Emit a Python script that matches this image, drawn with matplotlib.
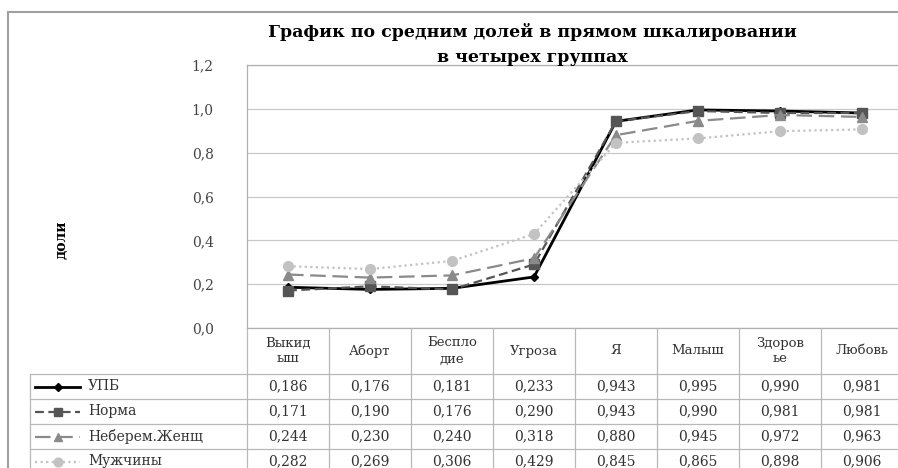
import matplotlib.pyplot as plt
import matplotlib.lines as mlines
import numpy as np

plt.rcParams['font.family'] = ['DejaVu Serif']

categories = ['Выкид\nыш', 'Аборт', 'Беспло\nдие', 'Угроза', 'Я', 'Малыш', 'Здоров\nье', 'Любовь']
series_names = ['УПБ', 'Норма', 'Неберем.Женщ', 'Мужчины']
upb = [0.186, 0.176, 0.181, 0.233, 0.943, 0.995, 0.990, 0.981]
norma = [0.171, 0.190, 0.176, 0.290, 0.943, 0.990, 0.981, 0.981]
neberem = [0.244, 0.230, 0.240, 0.318, 0.880, 0.945, 0.972, 0.963]
muzh = [0.282, 0.269, 0.306, 0.429, 0.845, 0.865, 0.898, 0.906]
yticks = [0.0, 0.2, 0.4, 0.6, 0.8, 1.0, 1.2]

series = [upb, norma, neberem, muzh]
styles = [
    dict(color='black', ls='-', lw=2.0, marker='D', ms=4.5, mfc='black', mec='black'),
    dict(color='#555555', ls=(0, (4, 2)), lw=1.6, marker='s', ms=7, mfc='#555555', mec='#555555'),
    dict(color='#8a8a8a', ls=(0, (7, 3)), lw=1.6, marker='^', ms=7, mfc='#8a8a8a', mec='#8a8a8a'),
    dict(color='#c2c2c2', ls=(0, (1, 1.5)), lw=1.6, marker='o', ms=7, mfc='#c2c2c2', mec='#c2c2c2'),
]

W, H = 898, 468
fig = plt.figure(figsize=(W / 100, H / 100), dpi=100)

def fx(x):
    return x / W

def fy(y):
    return 1 - y / H

ax_l, ax_r, ax_t, ax_b = 247, 903, 65, 328
ax = fig.add_axes([fx(ax_l), fy(ax_b), fx(ax_r - ax_l), (ax_b - ax_t) / H])
x = np.arange(len(categories))
for vals, st, name in zip(series, styles, series_names):
    ax.plot(x, vals, label=name, zorder=3, **st)

ax.set_xlim(-0.5, len(categories) - 0.5)
ax.set_ylim(0, 1.2)
ax.set_yticks(yticks)
ax.set_yticklabels([f'{v:.1f}'.replace('.', ',') for v in yticks], fontsize=10, color='#444444')
ax.tick_params(axis='y', length=0, pad=24)
ax.set_xticks([])
ax.grid(axis='y', color='#c8c8c8', lw=0.9)
for s in ax.spines.values():
    s.set_color('#b0b0b0')
    s.set_linewidth(0.9)

fig.text(fx(532), fy(32), 'График по средним долей в прямом шкалировании',
         ha='center', va='center', fontsize=12.5, fontweight='bold')
fig.text(fx(532), fy(57), 'в четырех группах',
         ha='center', va='center', fontsize=12.5, fontweight='bold')
fig.text(fx(62), fy(240), 'доли', rotation=90, ha='center', va='center',
         fontsize=10, fontweight='bold')

# chart frame
fig.add_artist(mlines.Line2D([fx(8), fx(8)], [0, fy(12)], color='#a0a0a0', lw=1.5))
fig.add_artist(mlines.Line2D([fx(8), 1], [fy(12), fy(12)], color='#a0a0a0', lw=1.5))

# data table
col_w = (ax_r - ax_l) / len(categories)
row_lines = [374, 399, 424, 449, 474]
gc = '#b8b8b8'
for i in range(len(categories) + 1):
    xx = ax_l + i * col_w
    fig.add_artist(mlines.Line2D([fx(xx), fx(xx)], [fy(ax_b), 0], color=gc, lw=0.9))
fig.add_artist(mlines.Line2D([fx(30), fx(30)], [fy(row_lines[0]), 0], color=gc, lw=0.9))
for yy in row_lines[:-1]:
    fig.add_artist(mlines.Line2D([fx(30), fx(ax_r)], [fy(yy), fy(yy)], color=gc, lw=0.9))

for i, cat in enumerate(categories):
    fig.text(fx(ax_l + (i + 0.5) * col_w), fy(351), cat, ha='center', va='center',
             fontsize=9.5, color='#333333', linespacing=1.3)

for r, (vals, st, name) in enumerate(zip(series, styles, series_names)):
    yc = (row_lines[r] + row_lines[r + 1]) / 2
    fig.add_artist(mlines.Line2D([fx(35), fx(80)], [fy(yc), fy(yc)],
                                 color=st['color'], ls=st['ls'], lw=st['lw']))
    fig.add_artist(mlines.Line2D([fx(57.5)], [fy(yc)], marker=st['marker'],
                                 ms=st['ms'] * 0.9, mfc=st['mfc'], mec=st['mec'], ls='none'))
    fig.text(fx(88), fy(yc), name, ha='left', va='center', fontsize=10, color='#333333')
    for i, v in enumerate(vals):
        fig.text(fx(ax_l + (i + 0.5) * col_w), fy(yc), f'{v:.3f}'.replace('.', ','),
                 ha='center', va='center', fontsize=10, color='#333333')

fig.savefig('out.png', dpi=100)
